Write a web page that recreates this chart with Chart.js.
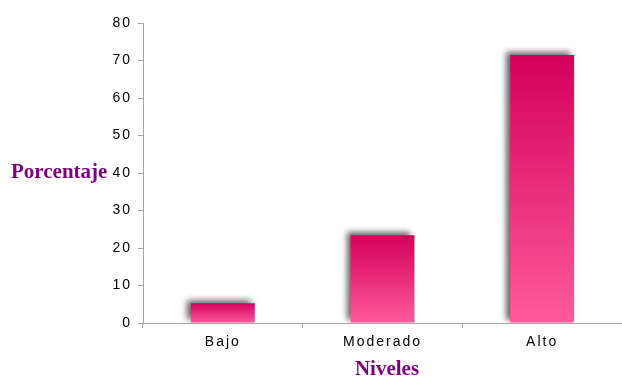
<!DOCTYPE html>
<html lang="es">
<head>
<meta charset="UTF-8">
<title>Niveles</title>
<script src="https://cdn.jsdelivr.net/npm/chart.js"></script>
<style>
  html, body { margin: 0; padding: 0; background: #fff; }
  #wrap { width: 622px; height: 379px; }
</style>
</head>
<body>
<div id="wrap"><canvas id="grafico"></canvas></div>
<script>
// categorías y porcentajes
const niveles = ['Bajo', 'Moderado', 'Alto'];
const porcentajes = [5.3, 23.4, 71.5];
const yMin = 0, yMax = 80, yPaso = 10;

const purpura = '#7e007e';
const ejeGris = '#a6a6a6';

// degradado vertical propio de cada barra
function colorBarra(ctx) {
  const chart = ctx.chart;
  const y = chart.scales.y;
  if (!chart.chartArea || !y || ctx.raw === undefined) return '#e8246e';
  const top = y.getPixelForValue(ctx.raw);
  const bottom = y.getPixelForValue(0);
  const g = chart.ctx.createLinearGradient(0, top, 0, bottom);
  g.addColorStop(0, '#d3005a');
  g.addColorStop(1, '#ff5a9c');
  return g;
}

// sombra gris arriba a la izquierda de las barras
const sombra = {
  id: 'sombra',
  beforeDatasetsDraw(chart) {
    const c = chart.ctx;
    c.save();
    c.shadowColor = 'rgba(0,0,0,0.6)';
    c.shadowBlur = 6;
    c.shadowOffsetX = -4;
    c.shadowOffsetY = -3;
  },
  afterDatasetsDraw(chart) {
    chart.ctx.restore();
  }
};

// etiquetas espaciadas y títulos de los ejes
const textos = {
  id: 'textos',
  beforeDraw(chart) {
    chart.ctx.letterSpacing = '2px';
  },
  afterDraw(chart) {
    const c = chart.ctx;
    c.save();
    c.letterSpacing = '0px';
    c.fillStyle = purpura;
    c.font = 'bold 21px "Liberation Serif", "Times New Roman", serif';
    c.textBaseline = 'middle';
    c.textAlign = 'left';
    c.fillText('Porcentaje', 11, 173);
    c.textAlign = 'center';
    c.fillText('Niveles', 387, 370);
    c.restore();
  }
};

new Chart(document.getElementById('grafico'), {
  type: 'bar',
  data: {
    labels: niveles,
    datasets: [{
      data: porcentajes,
      backgroundColor: colorBarra,
      borderWidth: 0,
      categoryPercentage: 1,
      barPercentage: 0.4
    }]
  },
  options: {
    responsive: true,
    maintainAspectRatio: false,
    animation: false,
    layout: { padding: { top: 23, right: -5, bottom: 0, left: 0 } },
    plugins: {
      legend: { display: false },
      tooltip: { enabled: false }
    },
    scales: {
      x: {
        grid: {
          display: true,
          drawOnChartArea: false,
          drawTicks: true,
          tickLength: 5,
          color: ejeGris
        },
        border: { color: ejeGris, width: 1 },
        ticks: {
          color: '#000',
          padding: 6,
          font: { family: 'Arial, "Liberation Sans", sans-serif', size: 14 }
        },
        afterFit(scale) { scale.height = 56; }
      },
      y: {
        min: yMin,
        max: yMax,
        grid: {
          display: true,
          drawOnChartArea: false,
          drawTicks: true,
          tickLength: 5,
          color: ejeGris
        },
        border: { color: ejeGris, width: 1 },
        ticks: {
          stepSize: yPaso,
          color: '#000',
          padding: 6,
          font: { family: 'Arial, "Liberation Sans", sans-serif', size: 14 }
        },
        afterFit(scale) { scale.width = 143; }
      }
    }
  },
  plugins: [sombra, textos]
});
</script>
</body>
</html>
